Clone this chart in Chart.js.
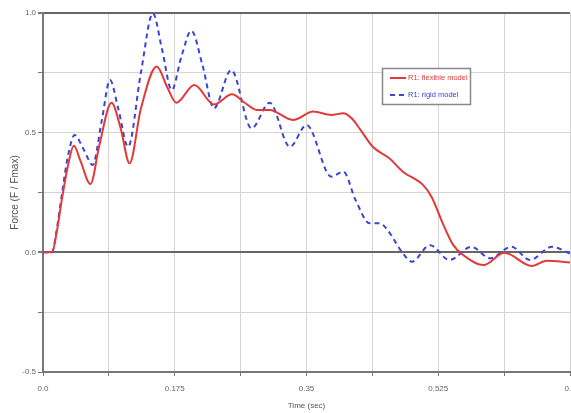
<!DOCTYPE html>
<html>
<head>
<meta charset="utf-8">
<script src="https://cdn.jsdelivr.net/npm/chart.js@4.4.1/dist/chart.umd.min.js"></script>
<style>
  html, body { margin: 0; padding: 0; background: #fff; }
  #wrap { width: 571px; height: 413px; position: relative; }
</style>
</head>
<body>
<div id="wrap"><canvas id="c" width="571" height="413"></canvas></div>
<script>
// ---- data ----
const flexLabel = 'R1: flexible model';
const rigidLabel = 'R1: rigid model';

const flexT = [0, 0.012, 0.018, 0.025, 0.033, 0.041, 0.05, 0.063, 0.075, 0.091, 0.103, 0.115, 0.13, 0.151, 0.165, 0.177, 0.201, 0.227, 0.251, 0.268, 0.284, 0.301, 0.332, 0.359, 0.383, 0.399, 0.41, 0.421, 0.438, 0.46, 0.478, 0.505, 0.516, 0.532, 0.545, 0.558, 0.585, 0.613, 0.649, 0.669, 0.7];
const flexF = [0, 0, 0.08, 0.22, 0.36, 0.445, 0.38, 0.285, 0.45, 0.625, 0.52, 0.372, 0.6, 0.776, 0.69, 0.625, 0.699, 0.618, 0.66, 0.625, 0.595, 0.595, 0.553, 0.588, 0.574, 0.581, 0.56, 0.515, 0.441, 0.393, 0.337, 0.281, 0.232, 0.114, 0.03, -0.011, -0.053, -0.002, -0.057, -0.035, -0.042];

const rigidT = [0, 0.012, 0.018, 0.025, 0.033, 0.042, 0.054, 0.066, 0.078, 0.089, 0.1, 0.113, 0.13, 0.146, 0.158, 0.171, 0.184, 0.197, 0.212, 0.227, 0.25, 0.277, 0.301, 0.328, 0.35, 0.383, 0.399, 0.415, 0.434, 0.447, 0.456, 0.478, 0.49, 0.514, 0.54, 0.569, 0.594, 0.622, 0.647, 0.676, 0.7];
const rigidF = [0, 0, 0.09, 0.24, 0.4, 0.49, 0.43, 0.365, 0.55, 0.72, 0.6, 0.441, 0.75, 0.999, 0.85, 0.678, 0.82, 0.926, 0.78, 0.602, 0.762, 0.518, 0.625, 0.441, 0.532, 0.316, 0.337, 0.22, 0.121, 0.122, 0.1, -0.004, -0.039, 0.03, -0.032, 0.023, -0.025, 0.023, -0.032, 0.023, -0.005];

const xGridValues = [0, 0.0875, 0.175, 0.2625, 0.35, 0.4375, 0.525, 0.6125, 0.7];
const xTickLabels = ['0.0', '', '0.175', '', '0.35', '', '0.525', '', '0.7'];
const yGridValues = [-0.5, -0.25, 0, 0.25, 0.5, 0.75, 1.0];
const yTickLabels = ['-0.5', '', '0.0', '', '0.5', '', '1.0'];

const xTitle = 'Time (sec)';
const yTitle = 'Force (F / Fmax)';

// ---- chart ----
const toPts = (t, f) => t.map((v, i) => ({ x: v, y: f[i] }));
const FONT = "'Liberation Sans', Arial, sans-serif";
const TXT = '#666';

const legendPlugin = {
  id: 'boxLegend',
  afterDraw(chart) {
    const ctx = chart.ctx;
    ctx.save();
    const x0 = 382, y0 = 68, w = 88, h = 36;
    ctx.fillStyle = '#fff';
    ctx.fillRect(x0, y0, w, h);
    ctx.strokeStyle = '#888';
    ctx.lineWidth = 1.5;
    ctx.strokeRect(x0 + 0.5, y0 + 0.5, w, h);
    chart.data.datasets.forEach((ds, i) => {
      const y = 78 + i * 17;
      ctx.strokeStyle = ds.borderColor;
      ctx.lineWidth = 2;
      ctx.setLineDash(ds.borderDash || []);
      ctx.beginPath();
      ctx.moveTo(390, y);
      ctx.lineTo(406, y);
      ctx.stroke();
      ctx.setLineDash([]);
      ctx.fillStyle = ds.borderColor;
      ctx.font = '7.5px ' + FONT;
      ctx.textBaseline = 'middle';
      ctx.textAlign = 'left';
      ctx.fillText(ds.label, 408, y);
    });
    ctx.restore();
  }
};

new Chart(document.getElementById('c'), {
  type: 'line',
  data: {
    datasets: [
      {
        label: flexLabel,
        data: toPts(flexT, flexF),
        borderColor: '#e23a3a',
        borderWidth: 2,
        pointRadius: 0,
        cubicInterpolationMode: 'monotone',
        fill: false
      },
      {
        label: rigidLabel,
        data: toPts(rigidT, rigidF),
        borderColor: '#3a44d8',
        borderWidth: 2,
        borderDash: [5, 4],
        pointRadius: 0,
        cubicInterpolationMode: 'monotone',
        fill: false
      }
    ]
  },
  options: {
    responsive: false,
    animation: false,
    devicePixelRatio: 1,
    layout: { padding: { top: 13, right: 1, left: 0, bottom: 0 } },
    plugins: { legend: { display: false }, tooltip: { enabled: false } },
    scales: {
      x: {
        type: 'linear',
        min: 0, max: 0.7,
        afterBuildTicks: s => { s.ticks = xGridValues.map(v => ({ value: v })); },
        afterFit: s => { s.height = 41; s.paddingLeft = 0; s.paddingRight = 0; },
        ticks: {
          autoSkip: false,
          maxRotation: 0,
          padding: 8,
          color: TXT,
          font: { family: FONT, size: 8 },
          callback: (v, i) => xTickLabels[i]
        },
        grid: {
          color: '#d4d4d4',
          lineWidth: 1,
          tickLength: 4,
          tickColor: '#777'
        },
        border: { color: '#777', width: 2 },
        title: {
          display: true, text: xTitle, color: '#555',
          font: { family: FONT, size: 8 }, padding: { top: 2, bottom: 2 }
        }
      },
      y: {
        min: -0.5, max: 1.0,
        afterBuildTicks: s => { s.ticks = yGridValues.map(v => ({ value: v })); },
        afterFit: s => { s.width = 43; },
        ticks: {
          autoSkip: false,
          padding: 2,
          color: TXT,
          font: { family: FONT, size: 8 },
          callback: (v, i) => yTickLabels[i]
        },
        grid: {
          color: c => (c.tick && (c.tick.value === 0 || c.tick.value === 1)) ? '#666' : '#d4d4d4',
          lineWidth: c => (c.tick && (c.tick.value === 0 || c.tick.value === 1)) ? 2 : 1,
          tickLength: 5,
          tickColor: '#777'
        },
        border: { color: '#777', width: 2 },
        title: {
          display: true, text: yTitle, color: '#555',
          font: { family: FONT, size: 10 }, padding: { top: 9, bottom: 0 }
        }
      }
    }
  },
  plugins: [legendPlugin]
});
</script>
</body>
</html>
